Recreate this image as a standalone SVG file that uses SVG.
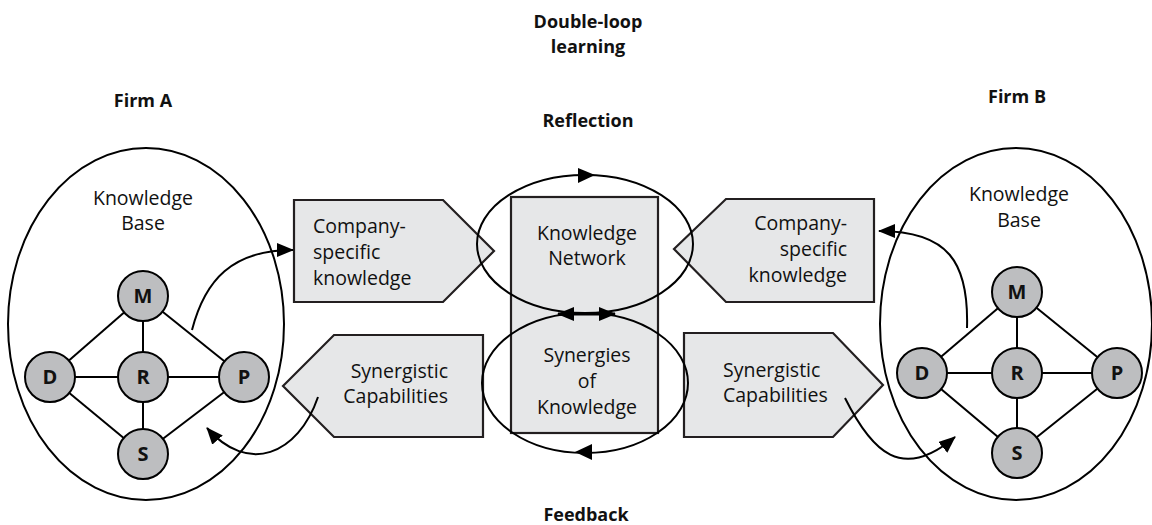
<svg xmlns="http://www.w3.org/2000/svg" width="1152" height="525" viewBox="0 0 1152 525">
<style>
text{font-family:"Open Sans","Liberation Sans",sans-serif;fill:#111}
.t{font-size:19.5px}
.b{font-size:18px;font-weight:bold}
.c{text-anchor:middle}
.s{text-anchor:start}
.e{text-anchor:end}
.nd{fill:#bdbec0;stroke:#000;stroke-width:2}
.nl{font-size:20px;font-weight:bold;text-anchor:middle}
.box{fill:#e6e7e8;stroke:#231f20;stroke-width:2.2}
.ol{fill:none;stroke:#000;stroke-width:2}
.ed{stroke:#000;stroke-width:2;fill:none}
.cv{stroke:#000;stroke-width:2;fill:none;marker-end:url(#ah)}
</style>
<defs>
<marker id="ah" viewBox="0 0 17 14" refX="16" refY="7" markerWidth="17" markerHeight="14" orient="auto-start-reverse" markerUnits="userSpaceOnUse"><path d="M0,0 L17,7 L0,14 z" fill="#000"/></marker>
</defs>
<rect width="1152" height="525" fill="#fff"/>

<g id="titles">
<text class="b c" x="588" y="28">Double-loop</text>
<text class="b c" x="588" y="53">learning</text>
<text class="b c" x="588" y="127">Reflection</text>
<text class="b c" x="586" y="521">Feedback</text>
<text class="b c" x="143" y="107">Firm A</text>
<text class="b c" x="1017" y="103">Firm B</text>
</g>

<g id="company-left">
<polygon class="box" points="294,200 443,200 494,251 443,302 294,302"/>
<text class="t s" x="313" y="233">Company-</text>
<text class="t s" x="313" y="259">specific</text>
<text class="t s" x="313" y="285">knowledge</text>
</g>
<g id="synergistic-left">
<polygon class="box" points="283,386 334,335 483,335 483,437 334,437"/>
<text class="t e" x="448" y="378">Synergistic</text>
<text class="t e" x="448" y="403">Capabilities</text>
</g>
<g id="company-right">
<polygon class="box" points="674,249 726,199 874,199 874,302 726,302"/>
<text class="t e" x="847" y="230">Company-</text>
<text class="t e" x="847" y="256">specific</text>
<text class="t e" x="847" y="282">knowledge</text>
</g>
<g id="synergistic-right">
<polygon class="box" points="684,333 833,333 883,385 833,437 684,437"/>
<text class="t s" x="723" y="377">Synergistic</text>
<text class="t s" x="723" y="402">Capabilities</text>
</g>

<g id="center">
<rect class="box" x="511" y="197" width="147" height="236"/>
<text class="t c" x="587" y="240">Knowledge</text>
<text class="t c" x="587" y="265">Network</text>
<text class="t c" x="587" y="362">Synergies</text>
<text class="t c" x="587" y="388">of</text>
<text class="t c" x="587" y="414">Knowledge</text>
</g>

<g id="edges">
<g>
<line class="ed" x1="143" y1="296" x2="50" y2="377"/>
<line class="ed" x1="143" y1="296" x2="244" y2="377"/>
<line class="ed" x1="143" y1="296" x2="143" y2="454"/>
<line class="ed" x1="50" y1="377" x2="244" y2="377"/>
<line class="ed" x1="50" y1="377" x2="143" y2="454"/>
<line class="ed" x1="244" y1="377" x2="143" y2="454"/>
</g>
<g>
<line class="ed" x1="1017" y1="292" x2="922" y2="373"/>
<line class="ed" x1="1017" y1="292" x2="1117" y2="373"/>
<line class="ed" x1="1017" y1="292" x2="1017" y2="453"/>
<line class="ed" x1="922" y1="373" x2="1117" y2="373"/>
<line class="ed" x1="922" y1="373" x2="1017" y2="453"/>
<line class="ed" x1="1117" y1="373" x2="1017" y2="453"/>
</g>
</g>

<g id="firmA-nodes">
<g id="a-M"><circle class="nd" cx="143" cy="296" r="25"/><text class="nl" x="143" y="303">M</text></g>
<g id="a-D"><circle class="nd" cx="50" cy="377" r="25"/><text class="nl" x="50" y="384">D</text></g>
<g id="a-R"><circle class="nd" cx="143" cy="377" r="25"/><text class="nl" x="143" y="384">R</text></g>
<g id="a-P"><circle class="nd" cx="244" cy="377" r="25"/><text class="nl" x="244" y="384">P</text></g>
<g id="a-S"><circle class="nd" cx="143" cy="454" r="25"/><text class="nl" x="143" y="461">S</text></g>
</g>
<g id="firmB-nodes">
<g id="b-M"><circle class="nd" cx="1017" cy="292" r="25"/><text class="nl" x="1017" y="299">M</text></g>
<g id="b-D"><circle class="nd" cx="922" cy="373" r="25"/><text class="nl" x="922" y="380">D</text></g>
<g id="b-R"><circle class="nd" cx="1017" cy="373" r="25"/><text class="nl" x="1017" y="380">R</text></g>
<g id="b-P"><circle class="nd" cx="1117" cy="373" r="25"/><text class="nl" x="1117" y="380">P</text></g>
<g id="b-S"><circle class="nd" cx="1017" cy="453" r="25"/><text class="nl" x="1017" y="460">S</text></g>
</g>

<g id="knowledge-base-A">
<ellipse class="ol" cx="146" cy="324" rx="138" ry="176"/>
<text class="t c" x="143" y="205">Knowledge</text>
<text class="t c" x="143" y="230">Base</text>
</g>
<g id="knowledge-base-B">
<ellipse class="ol" cx="1016" cy="324" rx="136" ry="176"/>
<text class="t c" x="1019" y="201">Knowledge</text>
<text class="t c" x="1019" y="227">Base</text>
</g>

<g id="loops">
<ellipse class="ol" cx="585" cy="244" rx="108" ry="69"/>
<ellipse class="ol" cx="585" cy="383" rx="103" ry="70"/>
</g>

<g id="connectors">
<path d="M578,168 L595,175 L578,183 z" fill="#000"/>
<path d="M592,444 L575,452 L592,460 z" fill="#000"/>
<line x1="558" y1="314" x2="615" y2="314" stroke="#000" stroke-width="3" marker-start="url(#ah)" marker-end="url(#ah)"/>
<path class="cv" d="M192,330 C205,280 232,250 293,250"/>
<path class="cv" d="M318,397 C298,455 248,475 207,428"/>
<path class="cv" d="M967,328 C969,262 948,231 879,231"/>
<path class="cv" d="M845,398 C872,452 902,482 955,437"/>
</g>
</svg>
